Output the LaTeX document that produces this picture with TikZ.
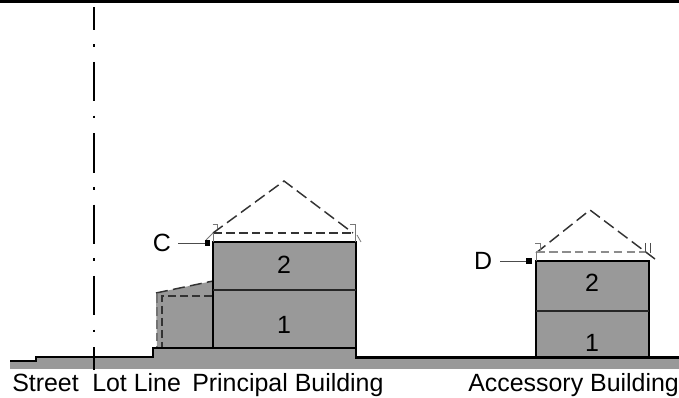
\documentclass[tikz,border=0pt]{standalone}
\usepackage{fontspec}
\setmainfont{Liberation Sans}
\usetikzlibrary{positioning}
\definecolor{wallgray}{HTML}{999999}
\definecolor{markgray}{HTML}{777777}
\tikzset{
  lbl/.style={inner sep=0pt,font=\fontsize{18.7}{21}\selectfont},
  mass/.style={draw=black,fill=wallgray,line width=1.6pt},
  ground/.style={draw=black,line width=2pt},
  roofline/.style={draw=black!80,line width=1.1pt,dash pattern=on 9pt off 4pt},
  eave/.style={draw=black!45,line width=1pt,dash pattern=on 6.5pt off 3.2pt},
  tick/.style={draw=markgray,line width=0.6pt},
  leader/.style={draw=black!70,line width=0.6pt},
  anchorpt/.style={fill=black,inner sep=0pt,minimum size=3.8pt}
}
\begin{document}
\begin{tikzpicture}[x=0.75pt,y=-0.75pt]
\useasboundingbox (0,0) rectangle (679,398);
\fill[black] (0,0) rectangle (679,3);

% ground
\fill[wallgray] (10,361) -- (36,361) -- (36,357) -- (153,357) -- (153,348)
    -- (356,348) -- (356,358) -- (679,358) -- (679,369) -- (10,369) -- cycle;

% annex
\fill[wallgray] (156,293) -- (213,281) -- (213,348) -- (157,348) -- cycle;
\draw[roofline] (156,293) -- (213,281);
\draw[eave,draw=black!55] (157,294) -- (157,347);
\draw[roofline,dash pattern=on 6pt off 3pt,line width=0.9pt] (212,296) -- (162,296) -- (162,347);

% principal building
\coordinate (p1) at (213,242);
\coordinate (p2) at (356,348);
\coordinate (papex) at (284,181);
\draw[mass] (p1) rectangle (p2);
\draw[draw=black!85,line width=0.9pt] (213,290) -- (356,290);
\draw[roofline] (213,233) -- (papex) -- (353,233);
\draw[eave,draw=black!80] (213,233) -- (353,233);
\draw[tick] (212.5,224) -- (217,224) -- (217,229);
\draw[tick] (350,224) -- (355.5,224) -- (355.5,242);
\draw[tick] (213,233) -- (213,242);
\draw[tick] (206,240) -- (213,233);
\draw[tick] (357,235) -- (361,242);

% accessory building
\coordinate (a1) at (536,261);
\coordinate (a2) at (649,357);
\coordinate (aapex) at (590,210);
\draw[mass] (a1) rectangle (a2);
\draw[draw=black!85,line width=1.2pt] (536,311) -- (649,311);
\draw[roofline] (536,253) -- (aapex) -- (655,259);
\draw[eave] (536,252) -- (645,252);
\draw[tick] (535,243) -- (540,243) -- (540,250);
\draw[tick] (536,252) -- (536,261);
\draw[tick,draw=black!70] (645,243) -- (645,252);
\draw[tick,draw=black!70] (650,243) -- (650,253);

% ground line on top
\draw[ground] (10,361) -- (36,361) -- (36,357) -- (153,357) -- (153,348)
    -- (356,348) -- (356,357.5) -- (679,357.5);

% lot line
\coordinate (lot1) at (93.5,7);
\coordinate (lot2) at (93.5,370);
\draw[black,line width=1.5pt,dash pattern=on 17.25pt off 10.75pt on 2pt off 11.25pt on 29.5pt off 10.75pt on 2pt off 11.25pt on 29.5pt off 10.75pt on 2pt off 11.25pt on 29.5pt off 10.75pt on 2pt off 11.25pt on 29.5pt off 10.75pt on 2pt off 11.25pt on 30pt off 1000pt] (lot1) -- (lot2);

\begin{scope}[every node/.style={lbl}]
    \node (c)  at (162,243) {C};
    \node (d)  at (483,261) {D};
    \node (p2n) at (284,265) {2};
    \node (p1n) at (284,325) {1};
    \node (a2n) at (592,283) {2};
    \node (a1n) at (592,343) {1};
    \node[anchor=base west] (street) at (12,392) {Street};
    \node[anchor=base west] (lotl) at (92,392) {Lot Line};
    \node[anchor=base west] (princ) at (192,392) {Principal Building};
    \node[anchor=base west] (acc) at (468,392) {Accessory Building};
\end{scope}

\node[anchorpt] (cpt) at (207.5,243) {};
\node[anchorpt] (dpt) at (529,261) {};
\draw[leader] (178,243) -- (cpt);
\draw[leader] (500,261) -- (dpt);
\end{tikzpicture}
\end{document}
